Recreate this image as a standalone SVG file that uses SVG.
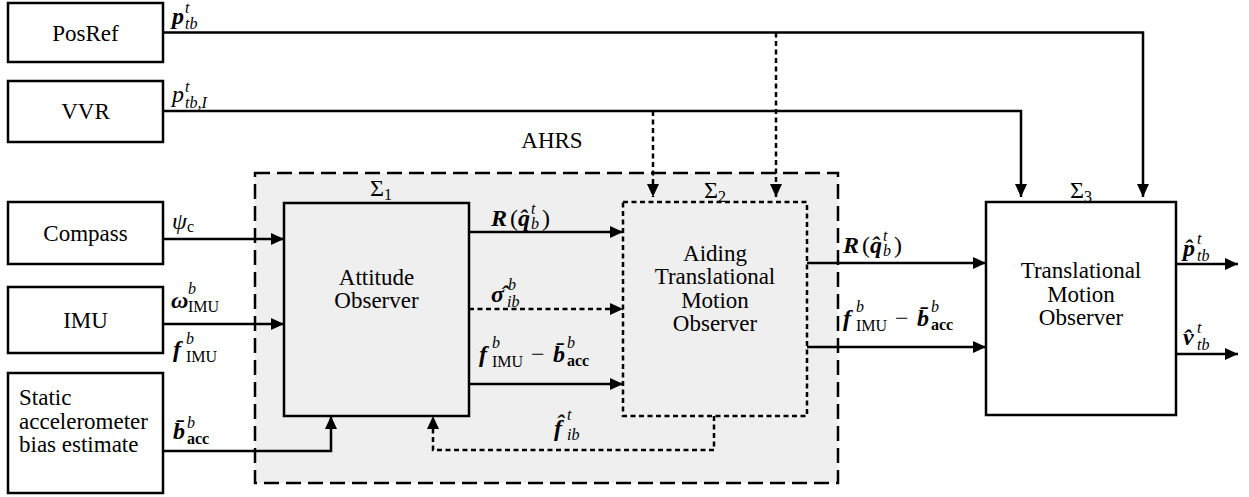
<svg xmlns="http://www.w3.org/2000/svg" width="1249" height="497" viewBox="0 0 1249 497" font-family="Liberation Serif, serif">
<defs>
<marker id="ah" markerUnits="userSpaceOnUse" markerWidth="13" markerHeight="12" refX="13" refY="6" orient="auto">
<path d="M0,0 L13,6 L0,12 z" fill="#000"/>
</marker>
<style>
.box{fill:#fff;stroke:#000;stroke-width:2.5}
.t{font-size:23px;fill:#000}
.m{font-size:24px;fill:#000}
.bi{font-weight:bold;font-style:italic}
.i{font-style:italic}
.b{font-weight:bold}
.s{font-size:16px}
.c{fill:none;stroke:#000;stroke-width:2.5}
.d{stroke-dasharray:5 3.5}
</style>
</defs>
<rect width="1249" height="497" fill="#fff"/>

<g id="ahrs">
<rect x="255" y="173" width="583" height="310" fill="#efefef" stroke="#000" stroke-width="2.5" stroke-dasharray="15 7"/>
<text class="t" x="552" y="148" text-anchor="middle">AHRS</text>
</g>

<g id="posref">
<rect class="box" x="8" y="3" width="155" height="59"/>
<text class="t" x="85.5" y="41" text-anchor="middle">PosRef</text>
</g>
<g id="vvr">
<rect class="box" x="8" y="81" width="155" height="61"/>
<text class="t" x="85.5" y="119" text-anchor="middle">VVR</text>
</g>
<g id="compass">
<rect class="box" x="8" y="202" width="155" height="62"/>
<text class="t" x="85.5" y="241" text-anchor="middle">Compass</text>
</g>
<g id="imu">
<rect class="box" x="8" y="287" width="155" height="66"/>
<text class="t" x="85.5" y="328" text-anchor="middle">IMU</text>
</g>
<g id="static">
<rect class="box" x="8" y="373" width="155" height="120"/>
<text class="t" x="19" y="405">Static</text>
<text class="t" x="19" y="429">accelerometer</text>
<text class="t" x="19" y="452">bias estimate</text>
</g>

<g id="sigma1">
<rect x="284" y="203" width="185" height="213" fill="#efefef" stroke="#000" stroke-width="2.5"/>
<text class="t" x="376.5" y="285" text-anchor="middle">Attitude</text>
<text class="t" x="376.5" y="308" text-anchor="middle">Observer</text>
<text class="m" x="370" y="196">Σ<tspan class="s" dy="4">1</tspan></text>
</g>

<g id="sigma2">
<rect x="623" y="202" width="184" height="214" fill="#efefef" stroke="#000" stroke-width="2.5" stroke-dasharray="5 3.5"/>
<text class="t" x="715" y="261" text-anchor="middle">Aiding</text>
<text class="t" x="715" y="284" text-anchor="middle">Translational</text>
<text class="t" x="715" y="308" text-anchor="middle">Motion</text>
<text class="t" x="715" y="331" text-anchor="middle">Observer</text>
<text class="m" x="704" y="198">Σ<tspan class="s" dy="4">2</tspan></text>
</g>

<g id="sigma3">
<rect class="box" x="986" y="202" width="190" height="213"/>
<text class="t" x="1081" y="278" text-anchor="middle">Translational</text>
<text class="t" x="1081" y="302" text-anchor="middle">Motion</text>
<text class="t" x="1081" y="325" text-anchor="middle">Observer</text>
<text class="m" x="1070" y="198">Σ<tspan class="s" dy="4">3</tspan></text>
</g>

<g id="connectors">
<path class="c" d="M163,32.5 H1143 V197" marker-end="url(#ah)"/>
<path class="c" d="M163,111 H1021 V197" marker-end="url(#ah)"/>
<path class="c d" d="M776,32.5 V197" marker-end="url(#ah)"/>
<path class="c d" d="M653,111 V197" marker-end="url(#ah)"/>
<path class="c" d="M163,239 H284" marker-end="url(#ah)"/>
<path class="c" d="M163,324 H284" marker-end="url(#ah)"/>
<path class="c" d="M163,451 H331 V416" marker-end="url(#ah)"/>
<path class="c" d="M469,232 H623" marker-end="url(#ah)"/>
<path class="c d" d="M469,309 H623" marker-end="url(#ah)"/>
<path class="c" d="M469,384 H623" marker-end="url(#ah)"/>
<path class="c d" d="M714,416 V450 H433 V416" marker-end="url(#ah)"/>
<path class="c" d="M807,263 H986" marker-end="url(#ah)"/>
<path class="c" d="M807,347 H986" marker-end="url(#ah)"/>
<path class="c" d="M1176,264 H1238" marker-end="url(#ah)"/>
<path class="c" d="M1176,354 H1238" marker-end="url(#ah)"/>
</g>

<g id="labels">
<text class="m"><tspan x="172" y="24" class="bi">p</tspan><tspan x="185" y="13" class="s i">t</tspan><tspan x="185" y="29" class="s i">tb</tspan></text>
<text class="m"><tspan x="172" y="102" class="i">p</tspan><tspan x="185" y="92" class="s i">t</tspan><tspan x="185" y="108" class="s i">tb,I</tspan></text>
<text class="m"><tspan x="172" y="229" class="i">ψ</tspan><tspan x="187" y="232" class="s">c</tspan></text>
<text class="m"><tspan x="171" y="308" class="bi">ω</tspan><tspan x="188" y="294" class="s i">b</tspan><tspan x="188" y="312" class="s">IMU</tspan></text>
<text class="m"><tspan x="173" y="357" class="bi">f</tspan><tspan x="186" y="344" class="s i">b</tspan><tspan x="186" y="362" class="s">IMU</tspan></text>
<text class="m"><tspan x="173" y="439" class="bi">b̄</tspan><tspan x="187" y="428" class="s i">b</tspan><tspan x="187" y="444" class="s b">acc</tspan></text>

<text class="m"><tspan x="491" y="226" class="bi">R</tspan><tspan x="510" y="226">(</tspan><tspan x="518" y="226" class="bi">q̂</tspan><tspan x="531" y="214" class="s i">t</tspan><tspan x="531" y="229" class="s i">b</tspan><tspan x="542" y="226">)</tspan></text>
<text class="m"><tspan x="491" y="302" class="bi">σ̂</tspan><tspan x="508" y="290" class="s i">b</tspan><tspan x="507" y="307" class="s i">ib</tspan></text>
<text class="m"><tspan x="479" y="362" class="bi">f</tspan><tspan x="492" y="348" class="s i">b</tspan><tspan x="492" y="367" class="s">IMU</tspan><tspan x="531" y="362">−</tspan><tspan x="553" y="362" class="bi">b̄</tspan><tspan x="567" y="348" class="s i">b</tspan><tspan x="567" y="366" class="s b">acc</tspan></text>
<text class="m"><tspan x="554" y="436" class="bi">f̂</tspan><tspan x="567" y="420" class="s i">t</tspan><tspan x="567" y="440" class="s i">ib</tspan></text>

<text class="m"><tspan x="843" y="253" class="bi">R</tspan><tspan x="862" y="253">(</tspan><tspan x="870" y="253" class="bi">q̂</tspan><tspan x="883" y="241" class="s i">t</tspan><tspan x="883" y="256" class="s i">b</tspan><tspan x="894" y="253">)</tspan></text>
<text class="m"><tspan x="843" y="326" class="bi">f</tspan><tspan x="856" y="312" class="s i">b</tspan><tspan x="856" y="331" class="s">IMU</tspan><tspan x="895" y="326">−</tspan><tspan x="917" y="326" class="bi">b̄</tspan><tspan x="931" y="312" class="s i">b</tspan><tspan x="931" y="330" class="s b">acc</tspan></text>
<text class="m"><tspan x="1183" y="256" class="bi">p̂</tspan><tspan x="1197" y="244" class="s i">t</tspan><tspan x="1197" y="261" class="s i">tb</tspan></text>
<text class="m"><tspan x="1183" y="345" class="bi">v̂</tspan><tspan x="1197" y="333" class="s i">t</tspan><tspan x="1197" y="350" class="s i">tb</tspan></text>
</g>
</svg>
